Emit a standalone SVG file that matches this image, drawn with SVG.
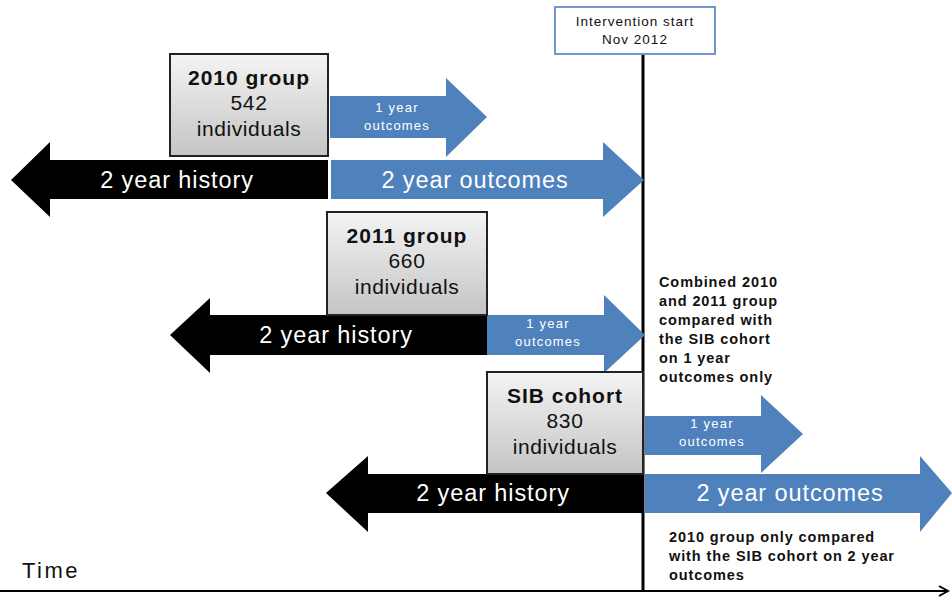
<svg xmlns="http://www.w3.org/2000/svg" width="952" height="600" viewBox="0 0 952 600">
<defs>
<linearGradient id="boxg" x1="0" y1="0" x2="0" y2="1">
<stop offset="0" stop-color="#f4f4f4"/>
<stop offset="1" stop-color="#c4c4c4"/>
</linearGradient>
<marker id="axhead" markerWidth="12" markerHeight="12" refX="10" refY="6" orient="auto" markerUnits="userSpaceOnUse">
<path d="M1,1 L10,6 L1,11" fill="none" stroke="#000" stroke-width="2"/>
</marker>
<style>
.box{fill:url(#boxg);stroke:#222;stroke-width:2}
.hist{fill:#000}
.out{fill:#4f81bd}
.t{font-family:"Liberation Sans",Arial,sans-serif;text-anchor:middle}
.bt{font-size:21px;fill:#111;letter-spacing:0.6px}
.bb{font-weight:bold;letter-spacing:1px}
.big{font-size:23.5px;fill:#fff;letter-spacing:0.9px}
.small{font-size:13px;fill:#fff;letter-spacing:1.2px}
.note{font-family:"Liberation Sans",Arial,sans-serif;font-size:14.5px;font-weight:bold;fill:#111;letter-spacing:0.9px}
</style>
</defs>
<rect width="952" height="600" fill="#fff"/>

<g id="connectors">
<line x1="643" y1="54" x2="643" y2="592" stroke="#000" stroke-width="3"/>
<line x1="0" y1="591" x2="948" y2="591" stroke="#000" stroke-width="2" marker-end="url(#axhead)"/>
</g>

<g id="intervention">
<rect x="555" y="7" width="160" height="47" fill="#fff" stroke="#6f98d0" stroke-width="2"/>
<text class="t" x="635" y="26" font-size="13.5" fill="#111" letter-spacing="1">Intervention  start</text>
<text class="t" x="635" y="44" font-size="13.5" fill="#111" letter-spacing="1">Nov 2012</text>
</g>

<g id="arrow-2010-1yr">
<path class="out" d="M330,96 H446 V78 L487,117 L446,157 V138 H330 Z"/>
<text class="t small" x="397" y="112">1 year</text>
<text class="t small" x="397" y="130">outcomes</text>
</g>

<g id="arrow-2010-history">
<path class="hist" d="M328,160 H50 V142 L11,180 L50,217 V199 H328 Z"/>
<text class="t big" x="177" y="188">2 year history</text>
</g>

<g id="arrow-2010-2yr">
<path class="out" d="M331,160 H603 V142 L644,180 L603,217 V199 H331 Z"/>
<text class="t big" x="475" y="188">2 year outcomes</text>
</g>

<g id="box-2010">
<rect class="box" x="170" y="54" width="158" height="102"/>
<text class="t bt bb" x="249" y="85">2010 group</text>
<text class="t bt" x="249" y="110">542</text>
<text class="t bt" x="249" y="136">individuals</text>
</g>

<g id="arrow-2011-history">
<path class="hist" d="M487,315 H210 V298 L170,335 L210,373 V355 H487 Z"/>
<text class="t big" x="336" y="343">2 year history</text>
</g>

<g id="arrow-2011-1yr">
<path class="out" d="M487,315 H604 V295 L645,335 L604,373 V355 H487 Z"/>
<text class="t small" x="548" y="328">1 year</text>
<text class="t small" x="548" y="346">outcomes</text>
</g>

<g id="box-2011">
<rect class="box" x="327" y="212" width="160" height="103"/>
<text class="t bt bb" x="407" y="243">2011 group</text>
<text class="t bt" x="407" y="268">660</text>
<text class="t bt" x="407" y="294">individuals</text>
</g>

<g id="note-1yr">
<text class="note" x="659" y="287">Combined 2010</text>
<text class="note" x="659" y="306">and 2011 group</text>
<text class="note" x="659" y="325">compared with</text>
<text class="note" x="659" y="344">the SIB cohort</text>
<text class="note" x="659" y="363">on 1 year</text>
<text class="note" x="659" y="382">outcomes  only</text>
</g>

<g id="arrow-sib-1yr">
<path class="out" d="M645,416 H761 V395 L803,434 L761,473 V455 H645 Z"/>
<text class="t small" x="712" y="428">1 year</text>
<text class="t small" x="712" y="446">outcomes</text>
</g>

<g id="arrow-sib-history">
<path class="hist" d="M643,474 H368 V456 L326,493 L368,532 V513 H643 Z"/>
<text class="t big" x="493" y="501">2 year history</text>
</g>

<g id="arrow-sib-2yr">
<path class="out" d="M645,474 H920 V456 L952,493 L920,532 V513 H645 Z"/>
<text class="t big" x="790" y="501">2 year outcomes</text>
</g>

<g id="box-sib">
<rect class="box" x="487" y="372" width="156" height="102"/>
<text class="t bt bb" x="565" y="403">SIB cohort</text>
<text class="t bt" x="565" y="428">830</text>
<text class="t bt" x="565" y="454">individuals</text>
</g>

<g id="note-2yr">
<text class="note" x="669" y="542">2010  group only compared</text>
<text class="note" x="669" y="561">with the SIB cohort on 2 year</text>
<text class="note" x="669" y="580">outcomes</text>
</g>

<g id="time-label">
<text x="22" y="578" font-family="&quot;Liberation Sans&quot;,Arial,sans-serif" font-size="22" fill="#111" letter-spacing="2.5">Time</text>
</g>
</svg>
